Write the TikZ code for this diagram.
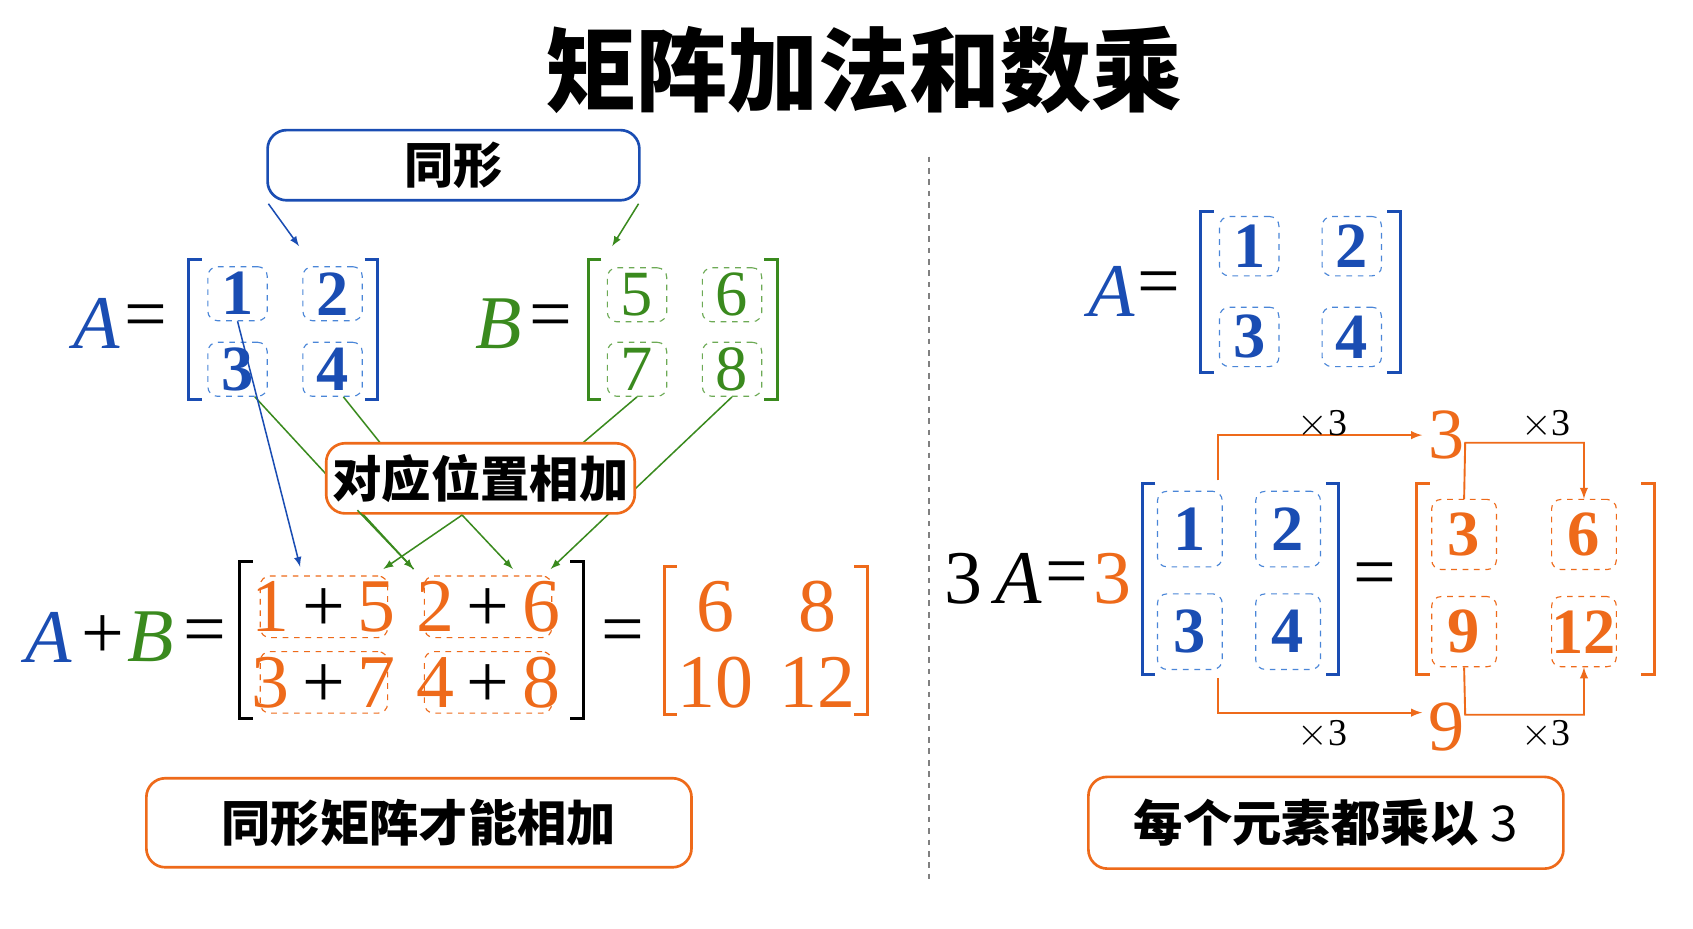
\documentclass[tikz,border=0pt]{standalone}
\usepackage{fontspec}
\setmainfont{Liberation Serif}
\newfontfamily\cjk{Noto Sans CJK SC}
\usetikzlibrary{positioning}
\definecolor{mblue}{HTML}{1A4DB3}
\definecolor{mgreen}{HTML}{3A8A1E}
\definecolor{morange}{HTML}{EE6A1A}
\definecolor{lblue}{HTML}{4A86D8}
\definecolor{lgreen}{HTML}{6DAA55}
% 矩阵方括号
\newcommand{\mbrack}[5]{%
  \draw[#5, line width=1.6pt] (#1+12,#2) -- (#1,#2) -- (#1,#4) -- (#1+12,#4);
  \draw[#5, line width=1.6pt] (#3-12,#2) -- (#3,#2) -- (#3,#4) -- (#3-12,#4);}
\tikzset{
  cell/.style={draw, dashed, rounded corners=5pt, inner sep=0pt, line width=0.6pt},
  tag/.style={draw=#1, rounded corners=10pt, line width=1.4pt, fill=white, font=\cjk\bfseries\fontsize{26}{30}\selectfont},
  num/.style={font=\fontsize{34}{38}\selectfont},
  lab/.style={font=\fontsize{40}{44}\selectfont},
  tip/.style={-latex}
}
\begin{document}
\begin{tikzpicture}[x=0.02cm, y=-0.02cm]
  \useasboundingbox[fill=white] (0,0) rectangle (1568,860);
  % 标题
  \node[font=\cjk\bfseries\fontsize{48}{52}\selectfont] (title) at (800,65) {矩阵加法和数乘};
  % 分隔线
  \draw[gray, dashed, line width=1pt] (860,145) -- (860,815);

  % ---------- 左半：加法 ----------
  \node[tag=mblue, minimum width=140\pgflinewidth, text width=2.4cm, align=center, minimum height=1.3cm] (same) at (420,153) {同形};
  % 矩阵 A
  \node[lab, text=mblue] (A) at (90,300) {\textit{A}};
  \node[lab] (eqA) at (135,298) {=};
  \mbrack{175}{240}{350}{370}{mblue}
  \foreach \v/\x/\y/\n in {1/220/272/a1, 2/308/272/a2, 3/220/342/a3, 4/308/342/a4}
    \node[cell, draw=lblue, text=mblue, num, minimum width=1.1cm, minimum height=1.0cm] (\n) at (\x,\y) {\textbf{\v}};
  % 矩阵 B
  \node[lab, text=mgreen] (B) at (462,300) {\textit{B}};
  \node[lab] (eqB) at (510,298) {=};
  \mbrack{545}{240}{720}{370}{mgreen}
  \foreach \v/\x/\y/\n in {5/590/273/b1, 6/678/273/b2, 7/590/342/b3, 8/678/342/b4}
    \node[cell, draw=lgreen, text=mgreen, num, minimum width=1.1cm, minimum height=1.0cm] (\n) at (\x,\y) {\v};
  \coordinate (pA) at (277,228);
  \coordinate (pB) at (567,228);
  \draw[mblue, tip, line width=0.8pt] (same.south west) ++(2,2) -- (pA);
  \draw[mgreen, tip, line width=0.8pt] (same.south east) ++(-2,2) -- (pB);

  % 连线（在标签之后画，被标签盖住）
  \coordinate (s11) at (278,525);
  \coordinate (s12) at (383,527);
  \coordinate (s21) at (355,527);
  \coordinate (s22) at (475,527);
  \coordinate (s23) at (510,527);
  \coordinate (mid) at (428,477);
  \draw[mgreen, line width=0.8pt] (a3.south east) ++(-12,0) -- (s12);
  \draw[mgreen, line width=0.8pt] (a4.south) ++(10,0) -- (352,410);
  \draw[mgreen, line width=0.8pt] (b3.south) -- (540,410);
  \draw[mgreen, tip, line width=0.8pt] (b4.south) -- (s23);
  \node[tag=morange, minimum width=5.7cm, minimum height=1.3cm] (add) at (445,443) {对应位置相加};
  \draw[mgreen, tip, line width=0.8pt] (a3.south east) ++(-12,0) ++(95,105) -- (s12);
  \draw[mgreen, tip, line width=0.8pt] (mid) -- (s21);
  \draw[mgreen, tip, line width=0.8pt] (mid) -- (s22);
  \draw[mblue, tip, line width=0.8pt] (a1.south) -- (s11);

  % A + B
  \node[lab, text=mblue] (A2) at (45,590) {\textit{A}};
  \node[lab] (plus) at (95,590) {+};
  \node[lab, text=mgreen] (B2) at (140,590) {\textit{B}};
  \node[lab] (eqS) at (190,590) {=};
  \mbrack{222}{520}{540}{665}{black}
  \foreach \t/\x/\y/\n in {1/300/562/c1, 2/452/562/c2, 3/300/632/c3, 4/452/632/c4}
    \node[cell, draw=morange, minimum width=2.36cm, minimum height=1.14cm] (\n) at (\x,\y) {};
  \node[num, text=morange, font=\fontsize{40}{44}\selectfont] at (c1) {1\,\textcolor{black}{+}\,5};
  \node[num, text=morange, font=\fontsize{40}{44}\selectfont] at (c2) {2\,\textcolor{black}{+}\,6};
  \node[num, text=morange, font=\fontsize{40}{44}\selectfont] at (c3) {3\,\textcolor{black}{+}\,7};
  \node[num, text=morange, font=\fontsize{40}{44}\selectfont] at (c4) {4\,\textcolor{black}{+}\,8};
  \node[lab] (eqR) at (577,590) {=};
  \mbrack{615}{525}{803}{662}{morange}
  \foreach \v/\x/\y/\n in {6/663/562/r1, 8/757/562/r2, 10/663/632/r3, 12/757/632/r4}
    \node[text=morange, font=\fontsize{40}{44}\selectfont] (\n) at (\x,\y) {\v};
  \node[tag=morange, minimum width=10.1cm, minimum height=1.65cm] (ruleL) at (388,762) {同形矩阵才能相加};

  % ---------- 右半：数乘 ----------
  \node[lab, text=mblue] (A3) at (1030,270) {\textit{A}};
  \node[lab] (eqA3) at (1073,268) {=};
  \mbrack{1112}{196}{1297}{345}{mblue}
  \foreach \v/\x/\y/\n in {1/1157/228/d1, 2/1252/228/d2, 3/1157/312/d3, 4/1252/312/d4}
    \node[cell, draw=lblue, text=mblue, num, minimum width=1.1cm, minimum height=1.1cm] (\n) at (\x,\y) {\textbf{\v}};

  \node[lab] (tA) at (920,536) {3\,\textit{A}};
  \node[lab] (eqT) at (988,536) {=};
  \node[lab, text=morange] (k) at (1030,536) {3};
  \mbrack{1058}{448}{1240}{625}{mblue}
  \foreach \v/\x/\y/\n in {1/1102/490/e1, 2/1193/490/e2, 3/1102/585/e3, 4/1193/585/e4}
    \node[cell, draw=lblue, text=mblue, num, minimum width=1.2cm, minimum height=1.4cm] (\n) at (\x,\y) {\textbf{\v}};
  \node[lab] (eqT2) at (1273,537) {=};
  \mbrack{1312}{448}{1532}{625}{morange}
  \foreach \v/\x/\y/\n in {3/1356/495/f1, 6/1467/495/f2, 9/1356/585/f3, 12/1467/585/f4}
    \node[cell, draw=morange, text=morange, num, minimum width=1.2cm, minimum height=1.3cm] (\n) at (\x,\y) {\textbf{\v}};

  % ×3 折线箭头
  \node[text=morange, font=\fontsize{38}{42}\selectfont] (up3) at (1340,403) {3};
  \node[text=morange, font=\fontsize{38}{42}\selectfont] (dn9) at (1340,673) {9};
  \draw[morange, tip, line width=1pt] (1128,445) |- (up3.west);
  \draw[morange, tip, line width=1pt] (1128,628) |- (dn9.west |- 660,660);
  \draw[morange, tip, line width=1pt] (f1.north) -- (1357,410) -| (f2.north);
  \draw[morange, tip, line width=1pt] (f3.south) -- (1357,662) -| (f4.south);
  \foreach \x/\y/\n in {1225/393/m1, 1432/393/m2, 1225/680/m3, 1432/680/m4}
    \node[font=\fontsize{20}{24}\selectfont] (\n) at (\x,\y) {$\times$3};

  \node[tag=morange, minimum width=8.8cm, minimum height=1.7cm] (ruleR) at (1228,762) {每个元素都乘以 \mdseries 3};
\end{tikzpicture}
\end{document}
